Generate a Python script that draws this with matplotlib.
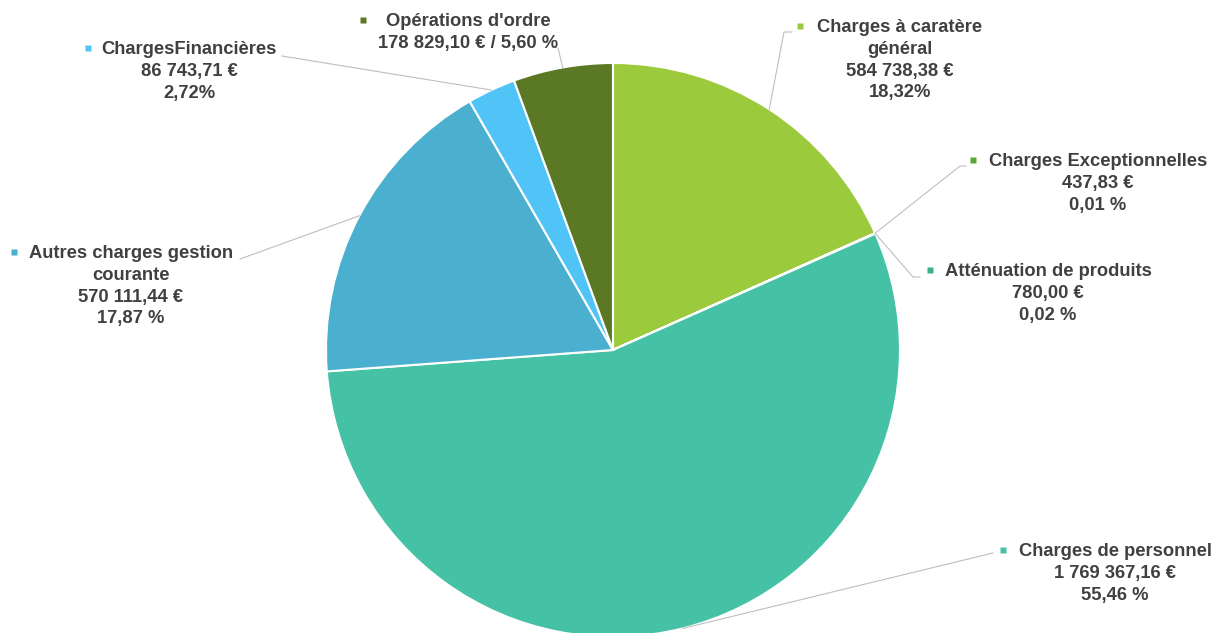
import numpy as np
import matplotlib.pyplot as plt

# Budget data (values in euros), clockwise from 12 o'clock
categories = ["Charges à caratère\ngénéral", "Charges Exceptionnelles", "Atténuation de produits",
              "Charges de personnel", "Autres charges gestion\ncourante", "ChargesFinancières",
              "Opérations d'ordre"]
values = [584738.38, 437.83, 780.00, 1769367.16, 570111.44, 86743.71, 178829.10]
value_labels = ["584 738,38 €", "437,83 €", "780,00 €", "1 769 367,16 €",
                "570 111,44 €", "86 743,71 €", "178 829,10 €"]
pct_labels = ["18,32%", "0,01 %", "0,02 %", "55,46 %", "17,87 %", "2,72%", "5,60 %"]
colors = ["#9BCA3C", "#5AA83B", "#3DAF89", "#45C2A5", "#4BB0CF", "#50C4F6", "#5B7824"]

W, H = 1222, 633
fig = plt.figure(figsize=(W / 100, H / 100), dpi=100)
ax = fig.add_axes([0, 0, 1, 1])

cx, cy, r = 613, H - 350, 287
ax.pie(values, colors=colors, startangle=90, counterclock=False,
       center=(cx, cy), radius=r, frame=True,
       wedgeprops=dict(edgecolor='white', linewidth=1.5))
ax.set_xlim(0, W)
ax.set_ylim(0, H)
ax.axis('off')

# label layout: (text centre x, first line y in px from top, marker x, leader path)
layout = [
    (900, 26, 800, [(784, 32), (792, 32)]),
    (1098, 160, 973, [(960, 166), (966, 166)]),
    (1048, 270, 930, [(913, 277), (920, 277)]),
    (1115, 550, 1003, [(993, 553)]),
    (131, 252, 14, [(240, 259)]),
    (189, 48, 88, [(282, 56)]),
    (468, 20, 363, [(558, 48)]),
]

txt_color = '#404040'
font = dict(family=['Liberation Sans', 'DejaVu Sans'], weight='bold', size=13.2, color=txt_color)
line_h = 21.8

total = sum(values)
cum = 0
for i, (cat, val) in enumerate(zip(categories, values)):
    mid = (cum + val / 2) / total
    cum += val
    ang = np.deg2rad(90 - 360 * mid)
    ex, ey = cx + r * np.cos(ang), cy + r * np.sin(ang)
    tx, ty, mx, path = layout[i]
    pts = [(ex, ey)] + [(px, H - py) for px, py in path]
    ax.plot([p[0] for p in pts], [p[1] for p in pts], color='#BFBFBF', lw=0.8, zorder=1)

    if i == 6:
        lines = [cat, value_labels[i] + " / " + pct_labels[i]]
    else:
        lines = cat.split("\n") + [value_labels[i], pct_labels[i]]
    for k, ln in enumerate(lines):
        ax.text(tx, H - (ty + 1.5 + k * line_h), ln, ha='center', va='center', **font)
    ax.plot(mx, H - ty, marker='s', ms=4.5, color=colors[i], mec='none')

fig.savefig('out.png', dpi=100)
